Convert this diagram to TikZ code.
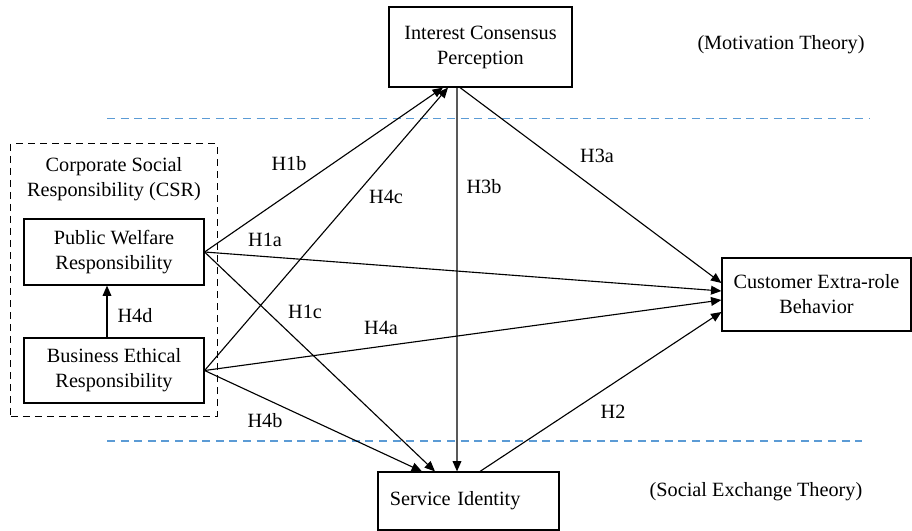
\documentclass[tikz,border=0pt]{standalone}
\usepackage{fontspec}
\setmainfont{Liberation Serif}
\usepackage{xcolor}
\usepackage{tikz}
\usetikzlibrary{arrows.meta,positioning}
\definecolor{theoryblue}{RGB}{91,155,213}

\begin{document}
\begin{tikzpicture}[
   x=0.025cm, y=-0.025cm,
   every node/.style={font=\fontsize{14.4}{17.8}\selectfont},
   box/.style={draw, line width=0.8pt, align=center, inner sep=2pt},
   grp/.style={draw, dashed, dash pattern=on 0.17cm off 0.13cm, line width=0.7pt, inner sep=0pt},
   hyp/.style={inner sep=1pt},
   band/.style={theoryblue, line width=0.8pt, dash pattern=on 0.2cm off 0.14cm},
   ar/.style={-{Triangle[length=2.6mm, width=2.2mm]}, line width=0.8pt}
]
\useasboundingbox (0,0) rectangle (912,531);

\node[grp, minimum width=5.15cm, minimum height=6.8cm] (csr) at (114,280) {};
\node[align=center] (csrlbl) at (114,179) {Corporate Social\\Responsibility (CSR)};
\node[box, minimum width=4.5cm, minimum height=1.65cm] (pwr) at (114,252) {Public Welfare\\Responsibility};
\node[box, minimum width=4.5cm, minimum height=1.625cm] (ber) at (114,370.5) {Business Ethical\\Responsibility};
\node[box, minimum width=4.575cm, minimum height=2cm] (icp) at (480.5,47) {Interest Consensus\\Perception};
\node[box, minimum width=4.725cm, minimum height=1.825cm] (ceb) at (816.5,294.5) {Customer Extra-role\\Behavior};
\node[box, text width=3.925cm, align=left, inner xsep=0.3cm, minimum height=1.45cm] (si) at (468.5,501) {Service Identity};

\node (mot) at (781,45) {(Motivation Theory)};
\node (sex) at (756,492) {(Social Exchange Theory)};

\coordinate (mtl) at (107,118.5);
\coordinate (mtr) at (870,118.5);
\coordinate (sel) at (107,441);
\coordinate (ser) at (862,441);
\draw[band] (mtl) -- (mtr);
\draw[band] (sel) -- (ser);

\draw[ar] ([xshift=-0.175cm]ber.north) -- ([xshift=-0.175cm]pwr.south);
\draw[ar] (pwr.east) -- ([xshift=-0.9375cm]icp.south);
\draw[ar] (ber.east) -- ([xshift=-0.8125cm]icp.south);
\draw[ar] ([xshift=-0.5875cm]icp.south) -- ([xshift=-0.2875cm]si.north);
\draw[ar] ([xshift=-0.5125cm]icp.south) -- ([yshift=0.2875cm]ceb.west);
\draw[ar] (pwr.east) -- ([yshift=0.0875cm]ceb.west);
\draw[ar] (ber.east) -- ([yshift=-0.1375cm]ceb.west);
\draw[ar] ([xshift=0.2875cm]si.north) -- ([yshift=-0.4375cm]ceb.west);
\draw[ar] (pwr.east) -- ([xshift=-0.8375cm]si.north);
\draw[ar] (ber.east) -- ([xshift=-1.1625cm]si.north);

\node[hyp] (h1b) at (289,164) {H1b};
\node[hyp] (h4c) at (386,197) {H4c};
\node[hyp] (h3b) at (484,187) {H3b};
\node[hyp] (h3a) at (597,156) {H3a};
\node[hyp] (h1a) at (265,240) {H1a};
\node[hyp] (h1c) at (305,312) {H1c};
\node[hyp] (h4a) at (381,328) {H4a};
\node[hyp] (h4d) at (135,316) {H4d};
\node[hyp] (h4b) at (265,421) {H4b};
\node[hyp] (h2) at (613,412) {H2};
\end{tikzpicture}
\end{document}
